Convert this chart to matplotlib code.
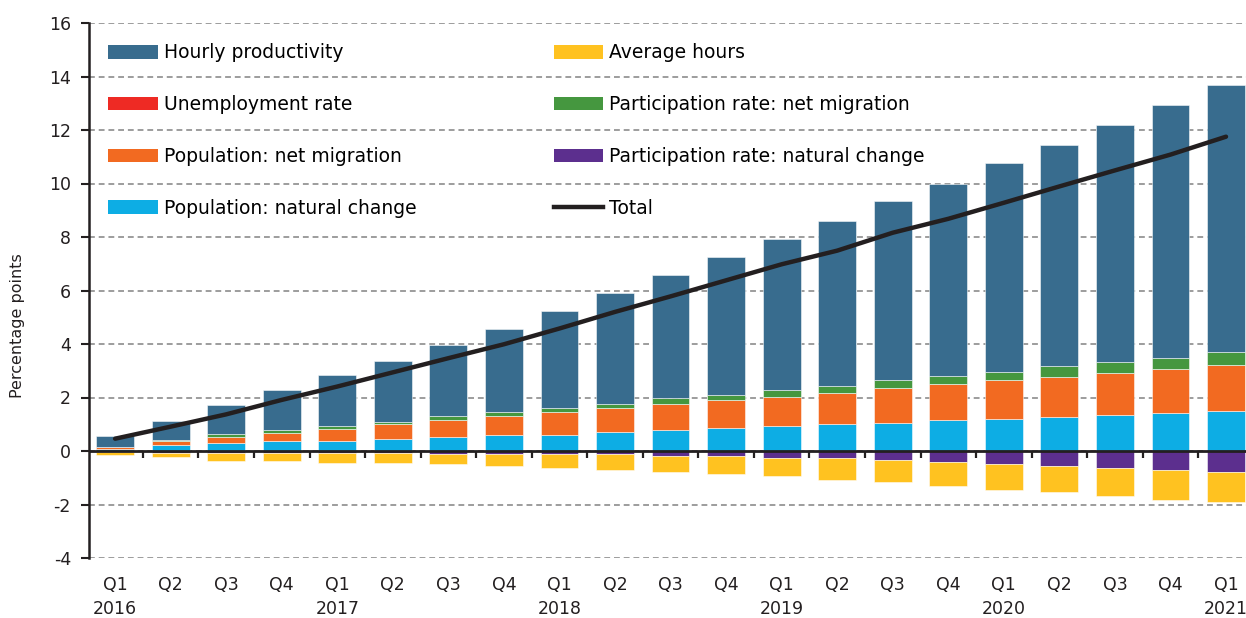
import matplotlib
matplotlib.use('Agg')
import matplotlib.pyplot as plt
from matplotlib.patches import Patch
from matplotlib.lines import Line2D
import numpy as np

plt.rcParams['font.family'] = ['DejaVu Sans']
plt.rcParams['axes.unicode_minus'] = False

# quarters Q1 2016 .. Q1 2021
quarters = ['Q1', 'Q2', 'Q3', 'Q4'] * 5 + ['Q1']
years = ['2016', '', '', '', '2017', '', '', '', '2018', '', '', '',
         '2019', '', '', '', '2020', '', '', '', '2021']

# contributions, percentage points
pop_natural = [0.08, 0.24, 0.30, 0.38, 0.39, 0.46, 0.53, 0.60, 0.61, 0.70, 0.77,
               0.85, 0.92, 1.00, 1.06, 1.15, 1.21, 1.28, 1.36, 1.43, 1.51]
pop_migration = [0.06, 0.14, 0.23, 0.31, 0.44, 0.54, 0.62, 0.70, 0.84, 0.90, 0.98,
                 1.04, 1.11, 1.18, 1.28, 1.34, 1.43, 1.50, 1.57, 1.65, 1.72]
unemployment = [0.0] * 21
part_migration = [0.02, 0.04, 0.09, 0.10, 0.09, 0.08, 0.15, 0.14, 0.15, 0.15, 0.22,
                  0.21, 0.24, 0.24, 0.30, 0.30, 0.30, 0.39, 0.39, 0.39, 0.46]
productivity = [0.40, 0.71, 1.11, 1.48, 1.93, 2.30, 2.67, 3.12, 3.63, 4.17, 4.61,
                5.15, 5.66, 6.17, 6.69, 7.21, 7.81, 8.26, 8.86, 9.45, 9.98]
part_natural = [-0.04, -0.06, -0.07, -0.08, -0.09, -0.09, -0.10, -0.11, -0.11, -0.11, -0.19,
                -0.19, -0.26, -0.26, -0.35, -0.42, -0.50, -0.57, -0.65, -0.72, -0.80]
avg_hours = [-0.11, -0.16, -0.29, -0.28, -0.35, -0.35, -0.40, -0.46, -0.54, -0.61, -0.61,
             -0.68, -0.69, -0.84, -0.82, -0.90, -0.97, -0.97, -1.04, -1.12, -1.12]
total = [0.46, 0.91, 1.37, 1.91, 2.41, 2.94, 3.47, 3.99, 4.58, 5.20, 5.78,
         6.38, 6.98, 7.49, 8.16, 8.68, 9.28, 9.89, 10.49, 11.08, 11.75]

colors = {
    'prod': '#386C8E', 'unemp': '#EE2A24', 'popmig': '#F26A21', 'popnat': '#0DADE4',
    'hours': '#FFC220', 'partmig': '#45973F', 'partnat': '#5C2F8E', 'total': '#231F20',
}
dark = '#231F20'

fig = plt.figure(figsize=(12.46, 6.18), dpi=100)
ax = fig.add_axes([89 / 1246, 60 / 618, 1157 / 1246, 535 / 618])

x = np.arange(len(quarters))
w = 0.68
edge = dict(edgecolor=(1, 1, 1, 0.6), linewidth=0.6)

# positive stack
bottom = np.zeros(len(x))
for vals, key in [(pop_natural, 'popnat'), (pop_migration, 'popmig'), (unemployment, 'unemp'),
                  (part_migration, 'partmig'), (productivity, 'prod')]:
    ax.bar(x, vals, w, bottom=bottom, color=colors[key], zorder=2, **edge)
    bottom += np.array(vals)

# negative stack
bottom = np.zeros(len(x))
for vals, key in [(part_natural, 'partnat'), (avg_hours, 'hours')]:
    ax.bar(x, vals, w, bottom=bottom, color=colors[key], zorder=2, **edge)
    bottom += np.array(vals)

ax.axhline(0, color=dark, lw=2, zorder=3)
ax.plot(x, total, color=colors['total'], lw=3.2, zorder=4, solid_capstyle='round')

ax.set_xlim(-0.47, 20.36)
ax.set_ylim(-4, 16)
ax.set_yticks(range(-4, 17, 2))
ax.yaxis.grid(True, linestyle=(0, (3, 2)), color='#9d9d9d', lw=1.4)
ax.set_axisbelow(True)

for s in ['top', 'right', 'bottom']:
    ax.spines[s].set_visible(False)
ax.spines['left'].set_linewidth(1.8)
ax.spines['left'].set_color(dark)
ax.tick_params(axis='y', direction='out', length=6, width=1.5, labelsize=12.5,
               colors=dark, pad=7)
ax.set_ylabel('Percentage points', fontsize=11.5, color=dark)
ax.yaxis.set_label_coords(-0.055, 0.435)

ax.set_xticks(x)
ax.set_xticklabels([q + ('\n' + y if y else '') for q, y in zip(quarters, years)],
                   fontsize=12.5, color=dark, linespacing=1.42)
ax.tick_params(axis='x', length=0, pad=13)

# ticks between bars on the zero line
zero = ax.secondary_xaxis(0.2)
zero.set_xticks(x[:-1] + 0.5)
zero.set_xticklabels([])
zero.tick_params(direction='out', length=5, width=1.6, colors=dark)
zero.spines['bottom'].set_visible(False)

def box(c):
    return Patch(facecolor=c, edgecolor='none')

leg_kw = dict(frameon=False, fontsize=13.5, handlelength=2.64, handleheight=0.75,
              handletextpad=0.32, labelspacing=1.75, borderpad=0, borderaxespad=0,
              loc='upper left')
leg1 = ax.legend([box(colors['prod']), box(colors['unemp']), box(colors['popmig']),
                  box(colors['popnat'])],
                 ['Hourly productivity', 'Unemployment rate', 'Population: net migration',
                  'Population: natural change'],
                 bbox_to_anchor=(0.0165, 0.962), **leg_kw)
ax.add_artist(leg1)
ax.legend([box(colors['hours']), box(colors['partmig']), box(colors['partnat']),
           Line2D([], [], color=colors['total'], lw=3.2)],
          ['Average hours', 'Participation rate: net migration',
           'Participation rate: natural change', 'Total'],
          bbox_to_anchor=(0.4015, 0.962), **leg_kw)

fig.savefig('out.png', dpi=100)
